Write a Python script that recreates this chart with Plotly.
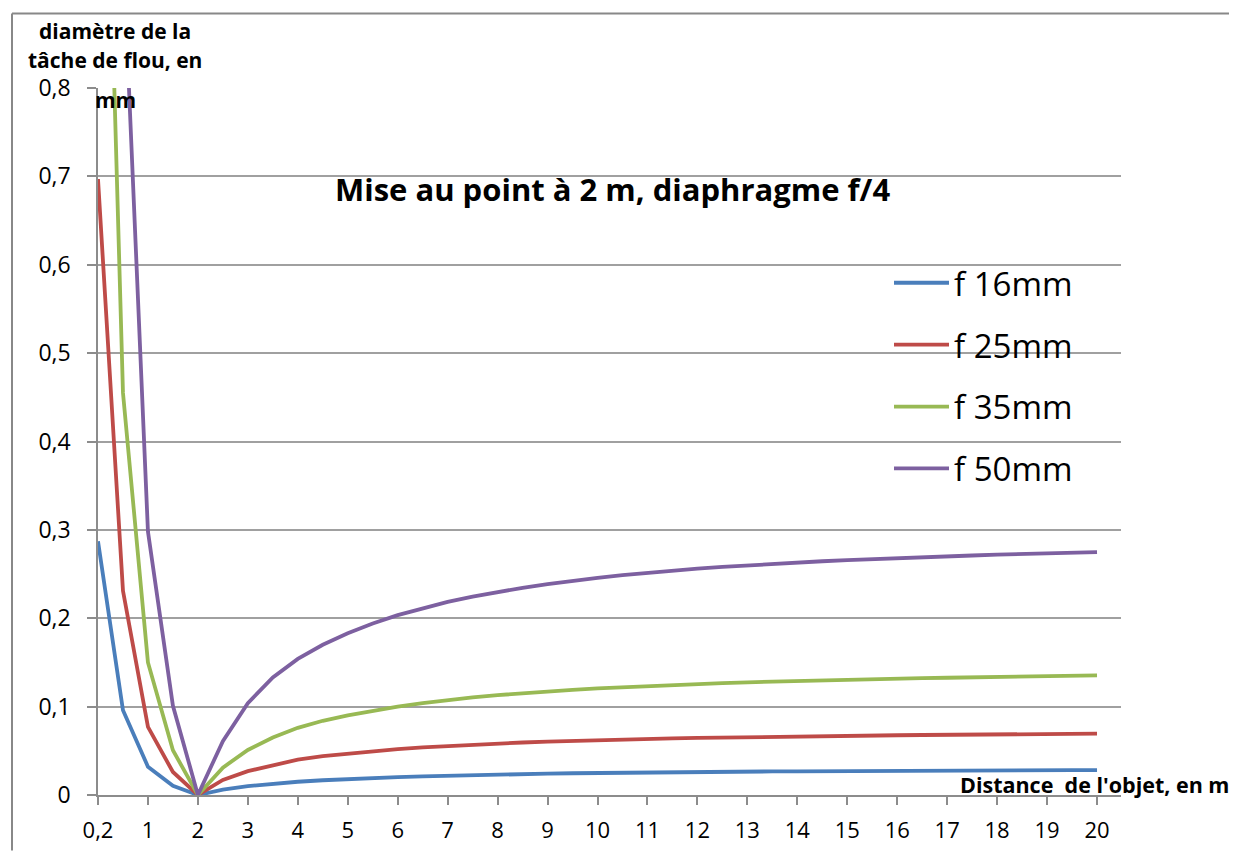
import plotly.graph_objects as go

# Categories: distance of the object (m)
distances = [0.2, 0.5, 1, 1.5, 2, 2.5, 3, 3.5, 4, 4.5, 5, 5.5, 6, 6.5, 7, 7.5, 8, 8.5, 9, 9.5,
             10, 10.5, 11, 11.5, 12, 12.5, 13, 13.5, 14, 14.5, 15, 15.5, 16, 16.5, 17, 17.5,
             18, 18.5, 19, 19.5, 20]
tick_labels = ["0,2", "1", "2", "3", "4", "5", "6", "7", "8", "9", "10", "11", "12", "13",
               "14", "15", "16", "17", "18", "19", "20"]
y_tick_vals = [0, 0.1, 0.2, 0.3, 0.4, 0.5, 0.6, 0.7, 0.8]
y_tick_text = ["0", "0,1", "0,2", "0,3", "0,4", "0,5", "0,6", "0,7", "0,8"]

f16 = [0.287, 0.096, 0.032, 0.0105, 0, 0.006, 0.010, 0.0128, 0.015, 0.0167, 0.0181, 0.0193, 0.0202,
       0.0211, 0.0219, 0.0226, 0.0232, 0.0237, 0.0242, 0.0246, 0.0250, 0.0253, 0.0256, 0.0259,
       0.0261, 0.0263, 0.0265, 0.0267, 0.0268, 0.0270, 0.0271, 0.0273, 0.0274, 0.0275, 0.0276,
       0.0277, 0.0278, 0.0279, 0.0280, 0.0281, 0.0281]
f25 = [0.697, 0.231, 0.077, 0.026, 0, 0.017, 0.027, 0.034, 0.040, 0.044, 0.047, 0.050, 0.052,
       0.054, 0.0556, 0.057, 0.0583, 0.0594, 0.0604, 0.0613, 0.0621, 0.0628, 0.0635, 0.0641,
       0.0646, 0.0651, 0.0655, 0.0659, 0.0663, 0.0667, 0.0670, 0.0673, 0.0676, 0.0679, 0.0681,
       0.0684, 0.0686, 0.0688, 0.0690, 0.0692, 0.0694]
f35 = [1.45, 0.455, 0.150, 0.0506, 0, 0.031, 0.051, 0.065, 0.076, 0.084, 0.090, 0.0955, 0.100,
       0.104, 0.1075, 0.1105, 0.113, 0.1152, 0.1172, 0.119, 0.1206, 0.122, 0.1233, 0.1245,
       0.1256, 0.1266, 0.1275, 0.1283, 0.1291, 0.1298, 0.1305, 0.1311, 0.1317, 0.1322, 0.1327,
       0.1332, 0.1337, 0.1341, 0.1345, 0.1349, 0.1353]
f50 = [2.75, 0.958, 0.298, 0.101, 0, 0.061, 0.104, 0.133, 0.154, 0.170, 0.183, 0.194, 0.2035,
       0.2115, 0.2185, 0.2245, 0.2298, 0.2345, 0.2387, 0.2425, 0.2458, 0.2488, 0.2515, 0.2539,
       0.2561, 0.2581, 0.2599, 0.2616, 0.2631, 0.2645, 0.2658, 0.2670, 0.2681, 0.2691, 0.2701,
       0.2710, 0.2719, 0.2727, 0.2735, 0.2742, 0.2749]

series_names = ["f 16mm", "f 25mm", "f 35mm", "f 50mm"]
series_values = [f16, f25, f35, f50]
colors = ["#4A7EBB", "#BE4B48", "#98B954", "#7D60A0"]

y_title_lines = ["diamètre de la", "tâche de flou, en", "mm"]

def fmt(d):
    return ("%g" % d).replace(".", ",")

x_cats = [fmt(d) for d in distances]

FONT = "Open Sans"

fig = go.Figure()
for i, (name, vals, col) in enumerate(zip(series_names, series_values, colors)):
    fig.add_trace(go.Scatter(
        x=x_cats, y=vals, mode="lines", name=name,
        line=dict(color=col, width=3.8), legendgroup="g%d" % i,
    ))

# the page body adds an 8px offset; work in page pixels
OFF = 8
W, H = 1237 - OFF, 856 - OFF
PL, PR, PT, PB = 98, 1121, 88, 800   # plot area in page pixels
L, T = PL - OFF, PT - OFF
R = W - (PR - OFF)
B = H - (PB - OFF)
pw, ph = PR - PL, PB - PT

def px(x):
    return (x - PL) / pw

def py(y):
    return (PB - y) / ph

annotations = [
    dict(text="<b>Mise au point à 2 m, diaphragme f/4</b>", x=px(612), y=py(190),
         xref="paper", yref="paper", showarrow=False, xanchor="center", yanchor="middle",
         font=dict(family=FONT, size=31, color="#000000")),
    dict(text="<b>Distance  de l'objet, en m</b>", x=px(1231), y=py(789),
         xref="paper", yref="paper", showarrow=False, xanchor="right", yanchor="middle",
         font=dict(family=FONT, size=21.5, color="#000000")),
]
for line_text, yc in zip(y_title_lines, [31, 60, 100]):
    annotations.append(dict(
        text="<b>%s</b>" % line_text, x=px(115), y=py(yc),
        xref="paper", yref="paper", showarrow=False, xanchor="center", yanchor="middle",
        font=dict(family=FONT, size=21, color="#000000")))

fig.update_layout(
    width=W, height=H,
    margin=dict(l=L, r=R, t=T, b=B),
    paper_bgcolor="white", plot_bgcolor="white",
    font=dict(family=FONT, color="#000000"),
    showlegend=True,
    legend=dict(
        x=px(889), y=py(256), xanchor="left", yanchor="top",
        font=dict(family=FONT, size=33, color="#000000"),
        bgcolor="rgba(0,0,0,0)", tracegroupgap=16, itemwidth=55,
    ),
    xaxis=dict(
        type="category", range=[0, 40.96],
        tickmode="array", tickvals=tick_labels, ticktext=tick_labels,
        ticks="outside", ticklen=8, tickcolor="#8c8c8c", tickwidth=1.5,
        showline=True, linecolor="#8c8c8c", linewidth=1.5,
        showgrid=False, tickfont=dict(family=FONT, size=22, color="#000000"),
        tickangle=0, ticklabelstandoff=7,
    ),
    yaxis=dict(
        range=[0, 0.8], tickmode="array", tickvals=y_tick_vals, ticktext=y_tick_text,
        ticks="outside", ticklen=9, tickcolor="#8c8c8c", tickwidth=1.5,
        showline=True, linecolor="#8c8c8c", linewidth=1.5,
        showgrid=True, gridcolor="#a0a0a0", gridwidth=1.5, zeroline=False,
        tickfont=dict(family=FONT, size=23, color="#000000"),
        ticklabelstandoff=12,
    ),
    annotations=annotations,
    shapes=[
        dict(type="line", xref="paper", yref="paper", x0=px(12), x1=px(1237), y0=py(13), y1=py(13),
             line=dict(color="#888888", width=2)),
        dict(type="line", xref="paper", yref="paper", x0=px(12), x1=px(12), y0=py(13), y1=py(856),
             line=dict(color="#888888", width=2)),
    ],
)

fig.write_html("out.html")
